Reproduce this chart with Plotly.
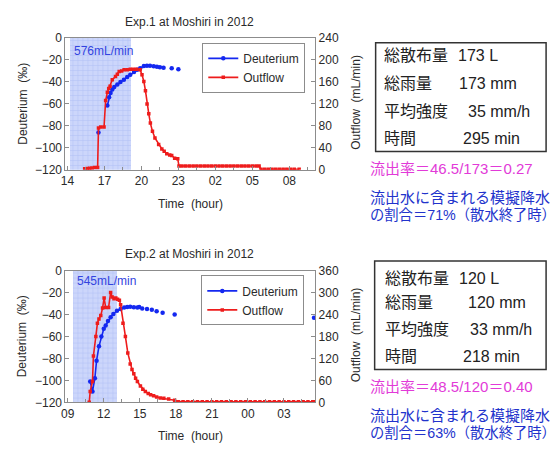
import plotly.graph_objects as go

W, H = 556, 452
FONT = "Liberation Sans, Arial, Noto Sans CJK JP"

# ---------------- Experiment 1 data ----------------
exp1_title = "Exp.1 at Moshiri in 2012"
exp1_rate_label = "576mL/min"
exp1_spray = [14.24, 19.2]  # spray period (hours)
exp1_tickvals = [14, 17, 20, 23, 26, 29, 32]
exp1_ticktext = ["14", "17", "20", "23", "02", "05", "08"]
exp1_right_ticks = [0, 40, 80, 120, 160, 200, 240]

exp1_d_time = [16.52, None, 17.24, 17.38, 17.5, 17.64, 17.8, 18.05, 18.3, 18.58, 18.85, 19.1,
               19.4, 19.65, 19.9, 20.2, 20.45, 20.7, 21.0, 21.26, 21.5, 21.8, None,
               22.46, None, 23.0, None, 32.87]
exp1_d_val = [-86, None, -61.5, -54, -50, -46.8, -44.5, -42.4, -40, -38, -35.5, -33.5,
              -31, -29, -27.5, -25.6, -25.2, -25.3, -25.8, -26.2, -26.6, -27, None,
              -27.6, None, -28.5, None, -41]

exp1_q_time = [15.4, 15.6, 15.8, 16.0, 16.2, 16.45, 16.52, 16.7, 16.97, 17.1, 17.24, 17.35,
               17.46, 17.64, 17.9, 18.05, 18.2, 18.4, 18.6, 18.85, 19.1, 19.35, 19.6, 19.9,
               20.05, 20.2, 20.33, 20.46, 20.6, 20.73, 20.9, 21.1, 21.4, 21.66, 21.85, 22.06,
               22.3, 22.46, 22.7, 22.95, 23.05, 23.3, 23.6, 23.9, 24.2, 24.5, 24.8, 25.1,
               25.4, 25.7, 26.0, 26.3, 26.6, 26.9, 27.2, 27.5, 27.8, 28.1, 28.4, 28.7, 29.0,
               29.3, 29.55, 29.7, 30.0, 30.3, 30.6, 30.9, 31.2, 31.5, 31.8, 32.1, 32.4, 32.8]
exp1_q_val = [2, 2.4, 3, 3.4, 4, 4, 76, 78, 78, 126, 141, 148,
              152, 164, 170, 174, 179, 180, 182, 182, 183, 183, 183, 182,
              173, 161, 144, 120, 102, 85, 70, 58, 46, 38, 34, 29,
              27, 26, 21, 20, 7, 7, 7, 7, 7, 7, 7, 7,
              7, 7, 7, 7, 7, 7, 7, 7, 7, 7, 7, 7, 7,
              7, 7, 1, 1, 1, 1, 1, 1, 1, 1, 1, 1, 1]

exp1_box_labels = ["総散布量", "総雨量", "平均強度", "時間"]
exp1_box_values = ["173 L", "173 mm", "35 mm/h", "295 min"]
exp1_ratio_text = "流出率＝46.5/173＝0.27"
exp1_frac_lines = ["流出水に含まれる模擬降水", "の割合＝71%（散水終了時）"]

# ---------------- Experiment 2 data ----------------
exp2_title = "Exp.2 at Moshiri in 2012"
exp2_rate_label = "545mL/min"
exp2_spray = [9.5, 13.18]
exp2_tickvals = [9, 12, 15, 18, 21, 24, 27]
exp2_ticktext = ["09", "12", "15", "18", "21", "00", "03"]
exp2_right_ticks = [0, 60, 120, 180, 240, 300, 360]

exp2_d_time = [10.87, 11.06, 11.26, 11.4, 11.6, 11.8, 12.0, 12.16, 12.35, 12.57, 12.8, 13.1,
               13.4, 13.7, 13.95, 14.2, 14.5, 14.8, 14.95, None, 15.2, None, 15.6, None,
               16.0, None, 16.4, None, 16.9, None, 17.9, None, 29.5]
exp2_d_val = [-101, -110, -98, -82, -69, -60, -53, -50, -46, -42.5, -39.5, -36.6,
              -35, -33.7, -33.2, -33, -33.5, -33.7, -33.2, None, -34.6, None, -35, None,
              -35.6, None, -37, None, -38.3, None, -40, None, -43]

exp2_q_time = [10.79, 10.87, 11.06, 11.14, 11.34, 11.47, 11.6, 11.75, 11.9, 12.03, 12.16, 12.4,
               12.57, 12.7, 12.85, 13.0, 13.15, 13.3, 13.4, 13.6, 13.8, 14.0, 14.2, 14.35,
               14.5, 14.65, 14.8, 15.05, 15.25, 15.46, 15.7, 15.9, 16.15, 16.4, 16.7, 17.0,
               17.4, 17.9, 18.2, 18.6, 19.0, 19.4, 19.8, 20.2, 20.6, 21.0, 21.4, 21.8, 22.2,
               22.6, 23.0, 23.4, 23.8, 24.2, 24.6, 25.0, 25.4, 25.8, 26.2, 26.6, 27.0, 27.4,
               27.8, 28.2, 28.6, 29.0, 29.4, 29.6]
exp2_q_val = [0, 30, 57, 127, 180, 216, 228, 237, 258, 285, 259, 259,
              300, 288, 283, 285, 282, 279, 267, 216, 180, 135, 105, 90,
              78, 66, 57, 45, 36, 30, 24, 21, 18, 15, 12, 11,
              9, 6, 2, 1.5, 1.5, 1.5, 1.5, 1.5, 1.5, 1.5, 1.5, 1.5, 1.5,
              1.5, 1.5, 1.5, 1.5, 1.5, 1.5, 1.5, 1.5, 1.5, 1.5, 1.5, 1.5, 1.5,
              1.5, 1.5, 1.5, 1.5, 1.5, 1.5]

exp2_box_labels = ["総散布量", "総雨量", "平均強度", "時間"]
exp2_box_values = ["120 L", "120 mm", "33 mm/h", "218 min"]
exp2_ratio_text = "流出率＝48.5/120＝0.40"
exp2_frac_lines = ["流出水に含まれる模擬降水", "の割合＝63%（散水終了時）"]

left_ticks = [0, -20, -40, -60, -80, -100, -120]

# ---------------- layout helpers ----------------
def px(x):
    return x / W

def py(y):
    return 1 - y / H

BLUE = "#1428f0"
RED = "#ee1c1c"
FRAME = "#8c8c8c"
TXT = "#2a2a2a"

fig = go.Figure()

panels = [
    dict(xa="x", ya="y", ya2="y2", spray=exp1_spray, dt=exp1_d_time, dv=exp1_d_val,
         qt=exp1_q_time, qv=exp1_q_val, legend="legend"),
    dict(xa="x2", ya="y3", ya2="y4", spray=exp2_spray, dt=exp2_d_time, dv=exp2_d_val,
         qt=exp2_q_time, qv=exp2_q_val, legend="legend2"),
]

for p in panels:
    s0, s1 = p["spray"]
    fig.add_trace(go.Bar(
        x=[(s0 + s1) / 2], y=[120], base=[-120], width=[s1 - s0],
        xaxis=p["xa"], yaxis=p["ya"], showlegend=False, hoverinfo="skip",
        marker=dict(color="#c9d3fb", line=dict(width=0),
                    pattern=dict(shape="+", size=5, solidity=0.2,
                                 fgcolor="#98aaf0", bgcolor="#ccd6fb")),
    ))
    fig.add_trace(go.Scatter(
        x=p["qt"], y=p["qv"], xaxis=p["xa"], yaxis=p["ya2"], name="Outflow",
        mode="lines+markers", line=dict(color=RED, width=1.6),
        marker=dict(symbol="square", size=3.5, color=RED), legend=p["legend"],
        legendrank=2,
    ))
    fig.add_trace(go.Scatter(
        x=p["dt"], y=p["dv"], xaxis=p["xa"], yaxis=p["ya"], name="Deuterium",
        mode="lines+markers", line=dict(color=BLUE, width=1.6),
        marker=dict(symbol="circle", size=4.5, color=BLUE), legend=p["legend"],
        legendrank=1,
    ))

xdom = [px(61), px(313)]
y1dom = [py(168), py(32)]
y2dom = [py(408), py(272)]

tickfont = dict(family=FONT, size=12, color=TXT)
common_x = dict(showline=True, linecolor=FRAME, linewidth=1, mirror=True,
                ticks="inside", ticklen=4, tickcolor=FRAME, tickfont=tickfont,
                showgrid=False, zeroline=False, tickmode="array")
common_y = dict(showline=True, linecolor=FRAME, linewidth=1, mirror=True,
                ticks="inside", ticklen=4, tickcolor=FRAME, tickfont=tickfont,
                showgrid=False, zeroline=False, range=[-120, 0],
                tickmode="array", tickvals=left_ticks)

fig.update_layout(
    width=W, height=H, margin=dict(l=0, r=0, t=0, b=0),
    paper_bgcolor="white", plot_bgcolor="white",
    font=dict(family=FONT, color=TXT),
    barmode="overlay", bargap=0,
    xaxis=dict(common_x, domain=xdom, anchor="y", range=[13.84, 34.1],
               tickvals=exp1_tickvals, ticktext=exp1_ticktext,
               minor=dict(dtick=1.5, tick0=14, ticks="inside", ticklen=3, tickcolor=FRAME)),
    yaxis=dict(common_y, domain=y1dom, anchor="x"),
    yaxis2=dict(overlaying="y", side="right", anchor="x", range=[0, 240],
                tickmode="array", tickvals=exp1_right_ticks, showgrid=False,
                zeroline=False, ticks="inside", ticklen=4, tickcolor=FRAME,
                showline=True, linecolor=FRAME, tickfont=tickfont),
    xaxis2=dict(common_x, domain=xdom, anchor="y3", range=[8.81, 29.6],
                tickvals=exp2_tickvals, ticktext=exp2_ticktext,
                minor=dict(dtick=1.5, tick0=9, ticks="inside", ticklen=3, tickcolor=FRAME)),
    yaxis3=dict(common_y, domain=y2dom, anchor="x2"),
    yaxis4=dict(overlaying="y3", side="right", anchor="x2", range=[0, 360],
                tickmode="array", tickvals=exp2_right_ticks, showgrid=False,
                zeroline=False, ticks="inside", ticklen=4, tickcolor=FRAME,
                showline=True, linecolor=FRAME, tickfont=tickfont),
    legend=dict(x=px(303), y=py(37), xanchor="right", yanchor="top",
                bgcolor="white", bordercolor=FRAME, borderwidth=1,
                font=dict(family=FONT, size=12, color=TXT), tracegroupgap=0,
                itemwidth=30),
    legend2=dict(x=px(302), y=py(277), xanchor="right", yanchor="top",
                 bgcolor="white", bordercolor=FRAME, borderwidth=1,
                 font=dict(family=FONT, size=12, color=TXT), tracegroupgap=0,
                 itemwidth=30),
)

annotations = []
shapes = []

def ann(text, x, y, size=12, color=TXT, xanchor="center", angle=0):
    annotations.append(dict(text=text, x=px(x), y=py(y), xref="paper", yref="paper",
                            showarrow=False, xanchor=xanchor, yanchor="middle",
                            textangle=angle,
                            font=dict(family=FONT, size=size, color=color)))

# panel texts
for (title, rate, ty, rate_x, rate_y, axis_mid, xt_y) in [
        (exp1_title, exp1_rate_label, 15, 68, 45, 100, 203),
        (exp2_title, exp2_rate_label, 255, 71, 283, 340, 443)]:
    ann(title, 186, ty, size=12)
    ann(rate, rate_x, rate_y, size=12, color="#3344e0", xanchor="left")
    ann("Deuterium  (‰)", 18, axis_mid, size=12, angle=-90)
    ann("Outflow  (mL/min)", 354, axis_mid - 2, size=12, angle=-90)
    ann("Time  (hour)", 187, xt_y, size=12)

# info boxes
for (labels, values, box, rows, val_x, lab_x, ratio, ratio_y, frac, frac_y) in [
        (exp1_box_labels, exp1_box_values, (374, 37, 546, 149), [50, 79, 108, 136],
         [455, 456, 465, 460], 380, exp1_ratio_text, 167, exp1_frac_lines, [197, 215]),
        (exp2_box_labels, exp2_box_values, (373, 262, 546, 374), [280, 305, 333, 361],
         [456, 465, 467, 460], 381, exp2_ratio_text, 392, exp2_frac_lines, [422, 440])]:
    x0, y0, x1, y1 = box
    shapes.append(dict(type="rect", xref="paper", yref="paper", x0=px(x0), x1=px(x1),
                       y0=py(y1), y1=py(y0), line=dict(color="#333333", width=1.5)))
    for lab, val, ry, vx in zip(labels, values, rows, val_x):
        ann(lab, lab_x, ry, size=16, color="#222222", xanchor="left")
        ann(val, vx, ry, size=16, color="#222222", xanchor="left")
    ann(ratio, 366, ratio_y, size=15, color="#e23ad8", xanchor="left")
    ann(frac[0], 366, frac_y[0], size=15, color="#2233cc", xanchor="left")
    ann(frac[1], 366, frac_y[1], size=14.3, color="#2233cc", xanchor="left")

fig.update_layout(annotations=annotations, shapes=shapes)
fig.write_html(
    "out.html",
    config={"displayModeBar": False},
    post_script="document.body.style.margin='0';document.body.style.overflow='hidden';",
)
